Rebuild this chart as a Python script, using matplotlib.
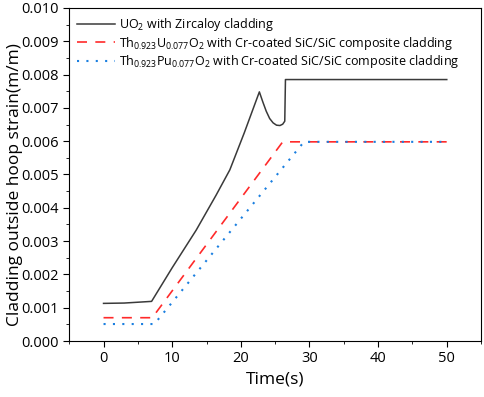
import numpy as np
import matplotlib
matplotlib.use('Agg')
import matplotlib.pyplot as plt
from matplotlib.ticker import MultipleLocator

plt.rcParams['font.family'] = ['Open Sans', 'DejaVu Sans']
plt.rcParams['mathtext.fontset'] = 'custom'
plt.rcParams['mathtext.rm'] = 'Open Sans'
plt.rcParams['mathtext.it'] = 'Open Sans'

# data
t_uo2 = [0, 3, 7.0, 10, 13.5, 16.4, 18.4, 20.5, 22.7, 23.2, 23.7, 24.2, 24.7, 25.2, 25.7, 26.1, 26.4, 26.5, 50]
s_uo2 = [0.00113, 0.00114, 0.00119, 0.0022, 0.00333, 0.00438, 0.00514, 0.00625, 0.00748,
         0.00718, 0.00690, 0.00668, 0.00655, 0.00648, 0.00647, 0.00651, 0.0066, 0.00785, 0.00785]

t_thu = [0, 7.1, 26.1, 50]
s_thu = [0.0007, 0.0007, 0.00598, 0.00598]

t_thpu = [0, 7.4, 29.2, 50]
s_thpu = [0.00051, 0.00051, 0.00598, 0.00598]

labels = ['UO$_2$ with Zircaloy cladding',
          'Th$_{0.923}$U$_{0.077}$O$_2$ with Cr-coated SiC/SiC composite cladding',
          'Th$_{0.923}$Pu$_{0.077}$O$_2$ with Cr-coated SiC/SiC composite cladding']

fig = plt.figure(figsize=(4.84, 3.97), dpi=100)
ax = fig.add_axes([0.143, 0.141, 0.851, 0.839])

ax.plot(t_uo2, s_uo2, color='#3a3a3a', lw=1.1, label=labels[0])
ax.plot(t_thu, s_thu, color='#ff2a2a', lw=1.2, ls=(0, (6, 5)), label=labels[1])
ax.plot(t_thpu, s_thpu, color='#1a7fe0', lw=1.5, ls=(0, (1, 3.5)), label=labels[2])

ax.set_xlim(-5, 55)
ax.set_ylim(0, 0.010)
ax.xaxis.set_major_locator(MultipleLocator(10))
ax.xaxis.set_minor_locator(MultipleLocator(5))
ax.yaxis.set_major_locator(MultipleLocator(0.001))
ax.yaxis.set_minor_locator(MultipleLocator(0.0005))
ax.yaxis.set_major_formatter(plt.FormatStrFormatter('%.3f'))
ax.tick_params(which='both', direction='out', top=False, right=False, labelsize=10.5)
ax.tick_params(which='major', length=4)
ax.tick_params(which='minor', length=2.5)

ax.set_xlabel('Time(s)', fontsize=12.5)
ax.set_ylabel('Cladding outside hoop strain(m/m)', fontsize=12.5)
ax.yaxis.set_label_coords(-0.112, 0.47)

ax.legend(loc='upper left', frameon=False, fontsize=9, handlelength=3.0,
          borderaxespad=0.35, labelspacing=0.12, handletextpad=0.35,
          borderpad=0.3)

fig.savefig('out.png', dpi=100)
